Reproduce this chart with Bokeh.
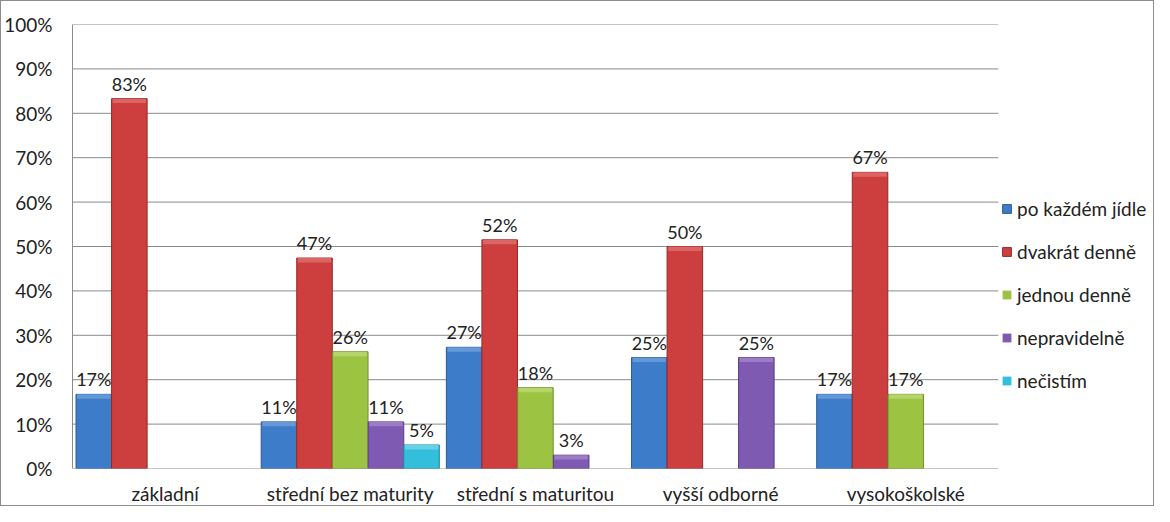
from bokeh.plotting import figure
from bokeh.models import (ColumnDataSource, Range1d, FixedTicker,
                          Legend, LegendItem, LabelSet)
from bokeh.core.properties import value
from bokeh.embed import file_html
from bokeh.resources import INLINE

categories = ["základní", "střední bez maturity", "střední s maturitou",
              "vyšší odborné", "vysokoškolské"]
series = ["po každém jídle", "dvakrát denně", "jednou denně", "nepravidelně", "nečistím"]
po_kazdem_jidle = [16.7, 10.5, 27.3, 25.0, 16.7]
dvakrat_denne = [83.3, 47.4, 51.5, 50.0, 66.7]
jednou_denne = [0.0, 26.3, 18.2, 0.0, 16.7]
nepravidelne = [0.0, 10.5, 3.0, 25.0, 0.0]
necistim = [0.0, 5.3, 0.0, 0.0, 0.0]
y_ticks = [0, 10, 20, 30, 40, 50, 60, 70, 80, 90, 100]
y_tick_labels = ["0%", "10%", "20%", "30%", "40%", "50%", "60%", "70%", "80%", "90%", "100%"]

all_values = [po_kazdem_jidle, dvakrat_denne, jednou_denne, nepravidelne, necistim]
colors = ["#3d7cc9", "#cd3f3f", "#9dc343", "#7f5ab2", "#33bfdc"]
light = ["#6498d8", "#dc6464", "#b5d56a", "#9c7cc6", "#66d2e8"]
dark = ["#2a5a95", "#952828", "#6f8f2a", "#5a3d82", "#1f8aa0"]

FONT = "Lato"
cat_idx = list(range(len(categories)))
x_start = -0.5
x_end_cats = len(categories) - 0.5
frame_w = 1154 - 2 - 70 - 2
x_end = x_start + frame_w * (len(categories) / 925.0)

p = figure(width=1154, height=506, x_range=Range1d(x_start, x_end),
           y_range=Range1d(0, 100), output_backend="svg", toolbar_location=None,
           min_border_left=70, min_border_right=2, min_border_top=23, min_border_bottom=38)
p.styles = {"border": "1px solid #8c8c8c", "box-sizing": "border-box"}
p.outline_line_color = None
p.background_fill_color = "white"
p.border_fill_color = "white"

# gridlines limited to the category area
p.segment(x0=[x_start] * len(y_ticks), x1=[x_end_cats] * len(y_ticks), y0=y_ticks, y1=y_ticks,
          line_color="#8a8a8a", line_width=1)

width = 0.192
offsets = [-0.385, -0.193, 0.0, 0.193, 0.385]
bevel = 1.0
items = []
for i, (name, vals) in enumerate(zip(series, all_values)):
    labels = [f"{int(v + 0.5)}%" if v > 0 else "" for v in vals]
    xs = [c + offsets[i] for c in cat_idx]
    src = ColumnDataSource(dict(x=xs, val=vals, lab=labels,
                                la=[1.0 if v > 0 else 0.0 for v in vals],
                                bev=[max(v - bevel, 0) for v in vals]))
    r = p.vbar(x="x", top="val", width=width, source=src, fill_color=colors[i],
               line_color=dark[i], line_width=1, line_alpha="la")
    p.vbar(x="x", top="val", bottom="bev", width=width * 0.94, source=src,
           fill_color=light[i], line_color=None)
    items.append(LegendItem(label=name, renderers=[r]))
    lbl = LabelSet(x="x", y="val", text="lab", source=src, text_align="center",
                   text_baseline="bottom", y_offset=4, text_font=value(FONT),
                   text_font_size="18px", text_color="#222222")
    p.add_layout(lbl)

p.xgrid.grid_line_color = None
p.ygrid.grid_line_color = None
p.yaxis.ticker = FixedTicker(ticks=y_ticks)
p.yaxis.major_label_overrides = {t: l for t, l in zip(y_ticks, y_tick_labels)}
p.xaxis.ticker = FixedTicker(ticks=cat_idx)
p.xaxis.major_label_overrides = {c: n for c, n in zip(cat_idx, categories)}
for ax in (p.xaxis, p.yaxis):
    ax.axis_line_color = "#8a8a8a"
    ax.major_tick_line_color = None
    ax.minor_tick_line_color = None
    ax.major_tick_out = 0
    ax.major_tick_in = 0
    ax.minor_tick_out = 0
    ax.minor_tick_in = 0
    ax.major_label_text_font = FONT
    ax.major_label_text_font_size = "19px"
    ax.major_label_text_color = "#222222"
p.xaxis.axis_line_color = None
p.yaxis.major_label_standoff = 20
p.xaxis.major_label_standoff = 13

legend = Legend(items=items, location=(929, 76), orientation="vertical",
                glyph_width=11, glyph_height=11, label_text_font=FONT,
                label_text_font_size="19px", label_text_color="#222222",
                spacing=20, label_standoff=5, padding=0, margin=0,
                border_line_color=None, background_fill_alpha=0,
                label_height=22)
p.add_layout(legend)

open("out.html", "w").write(file_html(p, INLINE))
